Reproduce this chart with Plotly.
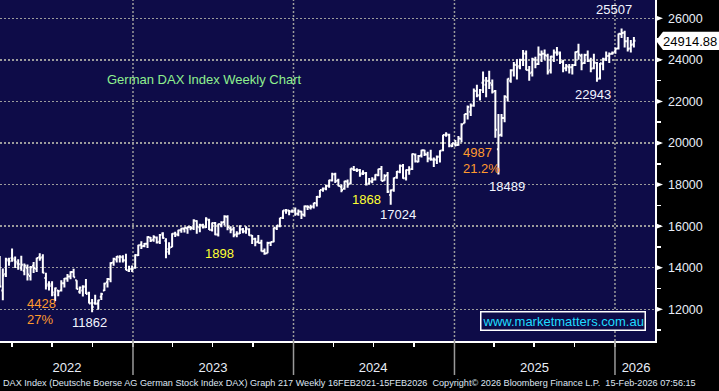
import plotly.graph_objects as go
import pandas as pd

# ---------------- data (weekly bars, week ending Friday) ----------------
WEEKS = pd.date_range("2022-03-04", "2026-02-13", freq="W-FRI")

OPEN = [
    # 2022
    14380, 12900, 13700, 14350, 14450, 14360, 14200, 14000, 13850, 14000, 13600, 14100, 13950, 14500, 14500,
    13500, 13200, 13200, 12700, 12900, 12900, 13250, 13480, 13580, 13800, 13400, 12850, 12900, 13100, 12800,
    12300, 12300, 12280, 12600, 12900, 13300, 13450, 14250, 14400, 14500, 14500, 14350, 13850, 13950,
    # 2023
    14000, 14600, 15100, 15050, 15150, 15450, 15350, 15450, 15250, 15650, 15300, 14900, 15000, 15650, 15600,
    15800, 15870, 15900, 15950, 15900, 16250, 15950, 16050, 15950, 16300, 15820, 16150, 15600, 16050, 16200,
    16450, 15900, 15850, 15600, 15650, 15850, 15750, 15850, 15550, 15400, 15250, 15200, 14800, 14700, 15200,
    15250, 15900, 16000, 16400, 16750, 16750, 16700,
    # 2024
    16750, 16600, 16700, 16550, 16950, 16900, 16950, 17100, 17400, 17750, 17800, 17950, 18200, 18500, 18200,
    17900, 17800, 18150, 18050, 18750, 18700, 18700, 18550, 18550, 18050, 18150, 18250, 18450, 18750, 18200,
    18450, 17500, 17750, 18350, 18600, 18900, 18300, 18700, 18750, 19450, 19100, 19400, 19650, 19450, 19250,
    19200, 19200, 19350, 19650, 20400, 20400, 19850,
    # 2025
    19950, 19900, 20200, 20950, 21400, 21500, 21800, 22500, 22300, 22900, 22800, 23000, 22800, 22500, 19700,
    20400, 21200, 22200, 23000, 23500, 23750, 23700, 24000, 24300, 23500, 23400, 24000, 23800, 24250, 24300,
    24200, 23500, 24150, 24350, 24300, 23900, 23600, 23650, 23650, 23750, 24400, 24200, 23850, 24250, 23950,
    23600, 23850, 23100, 23800, 24050, 24200, 24300,
    # 2026
    24400, 24550, 25250, 25300, 24900, 24550, 24750,
]
HIGH = [
    14570, 13958, 14480, 14480, 14925, 14540, 14410, 14580, 14200, 14150, 14080, 14270, 14480, 14700, 14650,
    13760, 13350, 13350, 13050, 12930, 13400, 13500, 13700, 13830, 13950, 13400, 13100, 13160, 13460, 12850,
    12490, 12700, 12460, 12800, 13280, 13510, 14260, 14480, 14560, 14600, 14600, 14675, 14090, 14110,
    14650, 15100, 15270, 15190, 15520, 15480, 15560, 15500, 15620, 15710, 15420, 15220, 15660, 15730, 15830,
    15920, 15950, 15980, 16010, 16330, 16290, 16120, 16120, 16430, 16360, 16170, 16200, 16120, 16240, 16530,
    16530, 16000, 15960, 15760, 16040, 15910, 15990, 15900, 15580, 15440, 15580, 15350, 14920, 15250, 15250,
    15940, 16040, 16400, 16770, 16830, 16780, 16800,
    16900, 16800, 16740, 16990, 17010, 17030, 17120, 17450, 17740, 17860, 17990, 18230, 18570, 18570, 18280,
    18000, 18190, 18250, 18790, 18892, 18790, 18750, 18690, 18600, 18320, 18350, 18500, 18760, 18890, 18500,
    18600, 17760, 18340, 18650, 18970, 18990, 18730, 18880, 19490, 19490, 19420, 19680, 19670, 19580, 19680,
    19300, 19400, 19650, 20400, 20520, 20440, 20000,
    20140, 20340, 20950, 21400, 21800, 21900, 22620, 22800, 22600, 23440, 23170, 23476, 23050, 22550, 21400,
    21400, 22300, 23100, 23550, 23900, 24030, 24050, 24480, 24450, 23700, 24100, 24150, 24640, 24450, 24500,
    24300, 24200, 24500, 24620, 24400, 24000, 23800, 23800, 23800, 24400, 24771, 24300, 24300, 24450, 24100,
    24300, 23900, 23850, 24100, 24400, 24350, 24400,
    24600, 25270, 25507, 25400, 25100, 24950, 25100,
]
LOW = [
    13045, 12439, 13550, 14100, 14290, 13990, 13900, 13850, 13640, 13380, 13380, 13750, 13800, 14340, 13740,
    12950, 12900, 12630, 12400, 12630, 12860, 13050, 13330, 13450, 13540, 12970, 12750, 12620, 12740, 12280,
    11862, 12220, 11980, 12450, 12880, 13050, 13300, 14100, 14250, 14250, 14250, 13880, 13790, 13790,
    13950, 14570, 14900, 14990, 14950, 15240, 15250, 15170, 15140, 15400, 14460, 14620, 14980, 15480, 15520,
    15680, 15700, 15630, 15800, 15820, 15630, 15710, 15890, 15910, 15820, 15740, 15560, 15500, 15950, 16030,
    15800, 15660, 15470, 15470, 15620, 15660, 15630, 15540, 15140, 15030, 15180, 14780, 14630, 14700, 15050,
    15230, 15820, 15950, 16350, 16600, 16530, 16650,
    16500, 16500, 16350, 16450, 16780, 16800, 16850, 16950, 17380, 17650, 17730, 17850, 18150, 18080, 17920,
    17630, 17750, 17850, 18000, 18650, 18600, 18380, 18460, 17950, 18000, 18060, 18200, 18400, 18170, 18180,
    17600, 17024, 17660, 18280, 18550, 18280, 18200, 18470, 18700, 19060, 19070, 19300, 19370, 19070, 19150,
    18850, 18990, 19060, 19600, 20300, 19800, 19810,
    19830, 19870, 20040, 20950, 21130, 21300, 21750, 22200, 22050, 22400, 22200, 22600, 22380, 20250, 18489,
    20300, 21000, 22000, 22900, 23200, 23050, 23550, 23700, 23500, 22990, 23200, 23600, 23750, 23900, 24000,
    23300, 23350, 23900, 24200, 23800, 23400, 23450, 23350, 23300, 23700, 24000, 23500, 23800, 23900, 23400,
    23550, 22943, 23050, 23500, 23950, 23850, 24250,
    24300, 24500, 25050, 24600, 24400, 24350, 24600,
]
CLOSE = [
    13094, 13628, 14413, 14306, 14446, 14284, 14164, 14143, 14098, 13674, 14027, 13982, 14462, 14460, 13762,
    13127, 13118, 12813, 13015, 12864, 13254, 13484, 13574, 13795, 13544, 12971, 13050, 13088, 12741, 12284,
    12114, 12273, 12438, 12731, 13243, 13460, 14225, 14431, 14541, 14529, 14371, 13894, 13941, 13924,
    14610, 15087, 15033, 15150, 15476, 15308, 15482, 15210, 15578, 15428, 14768, 14957, 15629, 15598, 15808,
    15882, 15922, 15961, 15914, 16275, 15984, 16051, 15949, 16358, 15830, 16148, 15603, 16105, 16177, 16469,
    15952, 15832, 15575, 15632, 15840, 15740, 15893, 15557, 15387, 15230, 15187, 14798, 14687, 15189, 15234,
    15919, 16029, 16398, 16759, 16751, 16706, 16752,
    16594, 16704, 16555, 16961, 16918, 16927, 17117, 17419, 17735, 17815, 17936, 18206, 18492, 18175, 17930,
    17737, 18161, 18001, 18773, 18704, 18693, 18498, 18557, 18002, 18164, 18235, 18475, 18748, 18171, 18418,
    17661, 17723, 18322, 18633, 18907, 18302, 18699, 18720, 19474, 19121, 19374, 19657, 19464, 19255, 19215,
    19211, 19323, 19626, 20385, 20405, 19885, 19984,
    19906, 20215, 20903, 21395, 21732, 21787, 22513, 22287, 22551, 23009, 22987, 22892, 22461, 20642, 20374,
    21205, 22242, 23087, 23499, 23767, 23630, 23997, 24304, 23516, 23351, 24033, 23787, 24255, 24290, 24218,
    23426, 24163, 24359, 24363, 23902, 23597, 23698, 23639, 23739, 24378, 24241, 23831, 24240, 23958, 23569,
    23876, 23092, 23837, 24028, 24186, 24288, 24340,
    24539, 25261, 25297, 24901, 24539, 24721, 24914.88,
]
LAST_PRICE = 24914.88

Y_TICKS = [12000, 14000, 16000, 18000, 20000, 22000, 24000, 26000]
YEAR_TEXT = ["2022", "2023", "2024", "2025", "2026"]
YEAR_LABEL_AT = ["2022-08-04", "2023-07-02", "2024-06-30", "2025-07-02", "2026-02-18"]
YEAR_STARTS = ["2023-01-01", "2024-01-01", "2025-01-01", "2026-01-01"]
QUARTERS = [d.strftime("%Y-%m-%d") for d in pd.date_range("2022-04-01", "2026-01-01", freq="QS")]

TITLE = "German DAX Index Weekly Chart"
FOOTER = ("DAX Index (Deutsche Boerse AG German Stock Index DAX) Graph 217 Weekly 16FEB2021-15FEB2026  "
          "Copyright\u00a9 2026 Bloomberg Finance L.P.  15-Feb-2026 07:56:15")

assert len(OPEN) == len(HIGH) == len(LOW) == len(CLOSE) == len(WEEKS)

# ---------------- layout geometry ----------------
W, H = 719, 391
PL, PR, PT, PB = 0, 655, 0, 341        # plot area in pixels
PW, PH = PR - PL, PB - PT
Y_RANGE = [10475, 26880]
X_RANGE = ["2022-03-04 14:00", "2026-04-02"]
FONT = "Arial, Liberation Sans, sans-serif"
BG = "#0e0c48"
GRID = "#9c9c9c"
TXT = "#e8eef8"


def px(x):
    return (x - PL) / PW


def py(y):
    return 1 - (y - PT) / PH


fig = go.Figure(go.Ohlc(
    x=WEEKS, open=OPEN, high=HIGH, low=LOW, close=CLOSE,
    increasing=dict(line=dict(color="white", width=2)),
    decreasing=dict(line=dict(color="white", width=2)),
    tickwidth=0.5, showlegend=False, hoverinfo="none",
))

shapes = []
for d in YEAR_STARTS:
    shapes.append(dict(type="line", xref="x", yref="paper", x0=d, x1=d, y0=0, y1=1,
                       line=dict(color=GRID, width=1.5, dash="2px,2px"), layer="below"))
    shapes.append(dict(type="line", xref="x", yref="paper", x0=d, x1=d, y0=-(375 - PB) / PH, y1=0,
                       line=dict(color="#9a9a9a", width=1.5)))

# right-axis triangle tick marks
tri_w = 8 / PW
for v in Y_TICKS:
    shapes.append(dict(type="path", xref="paper", yref="y",
                       path=f"M 1.0,{v - 150} L 1.0,{v + 150} L {1 + tri_w},{v} Z",
                       fillcolor="white", line=dict(width=0)))

# last price tag
half = 440
x_tip, x_body, x_end = px(656), px(663), px(719)
shapes.append(dict(type="path", xref="paper", yref="y",
                   path=(f"M {x_tip},{LAST_PRICE} L {x_body},{LAST_PRICE + half} L {x_end},{LAST_PRICE + half} "
                         f"L {x_end},{LAST_PRICE - half} L {x_body},{LAST_PRICE - half} Z"),
                   fillcolor="white", line=dict(width=0)))

ann = []


def add(text, x, y, color, size=13, xanchor="center", family=FONT, **kw):
    ann.append(dict(text=text, x=px(x), y=py(y), xref="paper", yref="paper", showarrow=False,
                    xanchor=xanchor, yanchor="middle", font=dict(color=color, size=size, family=family), **kw))


WHITE = "#f2f5ff"
ORANGE = "#ff9a2e"
YELLOW = "#ffff33"
add(TITLE, 204, 79, "#8ff08f", 13)
add("25507", 614, 10, WHITE)
add("22943", 593, 95, WHITE)
add("4987", 461, 152, ORANGE, xanchor="left")
add("21.2%", 461, 168, ORANGE, xanchor="left")
add("18489", 507, 187, WHITE)
add("1868", 367, 199, YELLOW)
add("17024", 398, 214, WHITE)
add("1898", 219, 253, YELLOW)
add("4428", 25, 303, ORANGE, xanchor="left")
add("27%", 25, 319, ORANGE, xanchor="left")
add("11862", 89, 322, WHITE)
add("www.marketmatters.com.au", 563, 321, "#1fdcff", 13,
    bordercolor="white", borderwidth=1.5, borderpad=1, bgcolor=BG)
add(f"{LAST_PRICE:.2f}", 690, 41, "black", 13)
add(FOOTER, 1, 383, "#dfe6f2", 9.15, xanchor="left")

fig.update_layout(
    width=W, height=H,
    margin=dict(l=PL, r=W - PR, t=PT, b=H - PB, pad=0),
    paper_bgcolor="black", plot_bgcolor=BG,
    font=dict(family=FONT, color=TXT),
    showlegend=False, hovermode=False,
    shapes=shapes, annotations=ann,
    xaxis=dict(
        type="date", range=X_RANGE, rangeslider=dict(visible=False),
        showgrid=False, zeroline=False,
        showline=True, linecolor="white", linewidth=1.5,
        tickmode="array", tickvals=YEAR_LABEL_AT, ticktext=YEAR_TEXT, ticks="",
        tickfont=dict(size=13, color=TXT), ticklabelstandoff=14,
        minor=dict(tickmode="array", tickvals=QUARTERS, ticks="outside", ticklen=4,
                   tickcolor="white", tickwidth=1.5, showgrid=False),
    ),
    yaxis=dict(
        side="right", range=Y_RANGE, tickmode="array", tickvals=Y_TICKS, tickformat="d",
        showgrid=True, gridcolor=GRID, gridwidth=1.5, griddash="2px,2px", zeroline=False,
        showline=True, linecolor="white", linewidth=1.5,
        ticks="outside", ticklen=9, tickcolor="rgba(0,0,0,0)",
        tickfont=dict(size=12.5, color=TXT),
        minor=dict(dtick=1000, tick0=0, ticks="outside", ticklen=4, tickcolor="white",
                   tickwidth=1.5, showgrid=False),
    ),
)

fig.write_html("out.html", config={"displayModeBar": False, "staticPlot": True},
               post_script="document.body.style.margin='0';document.body.style.background='black';")
